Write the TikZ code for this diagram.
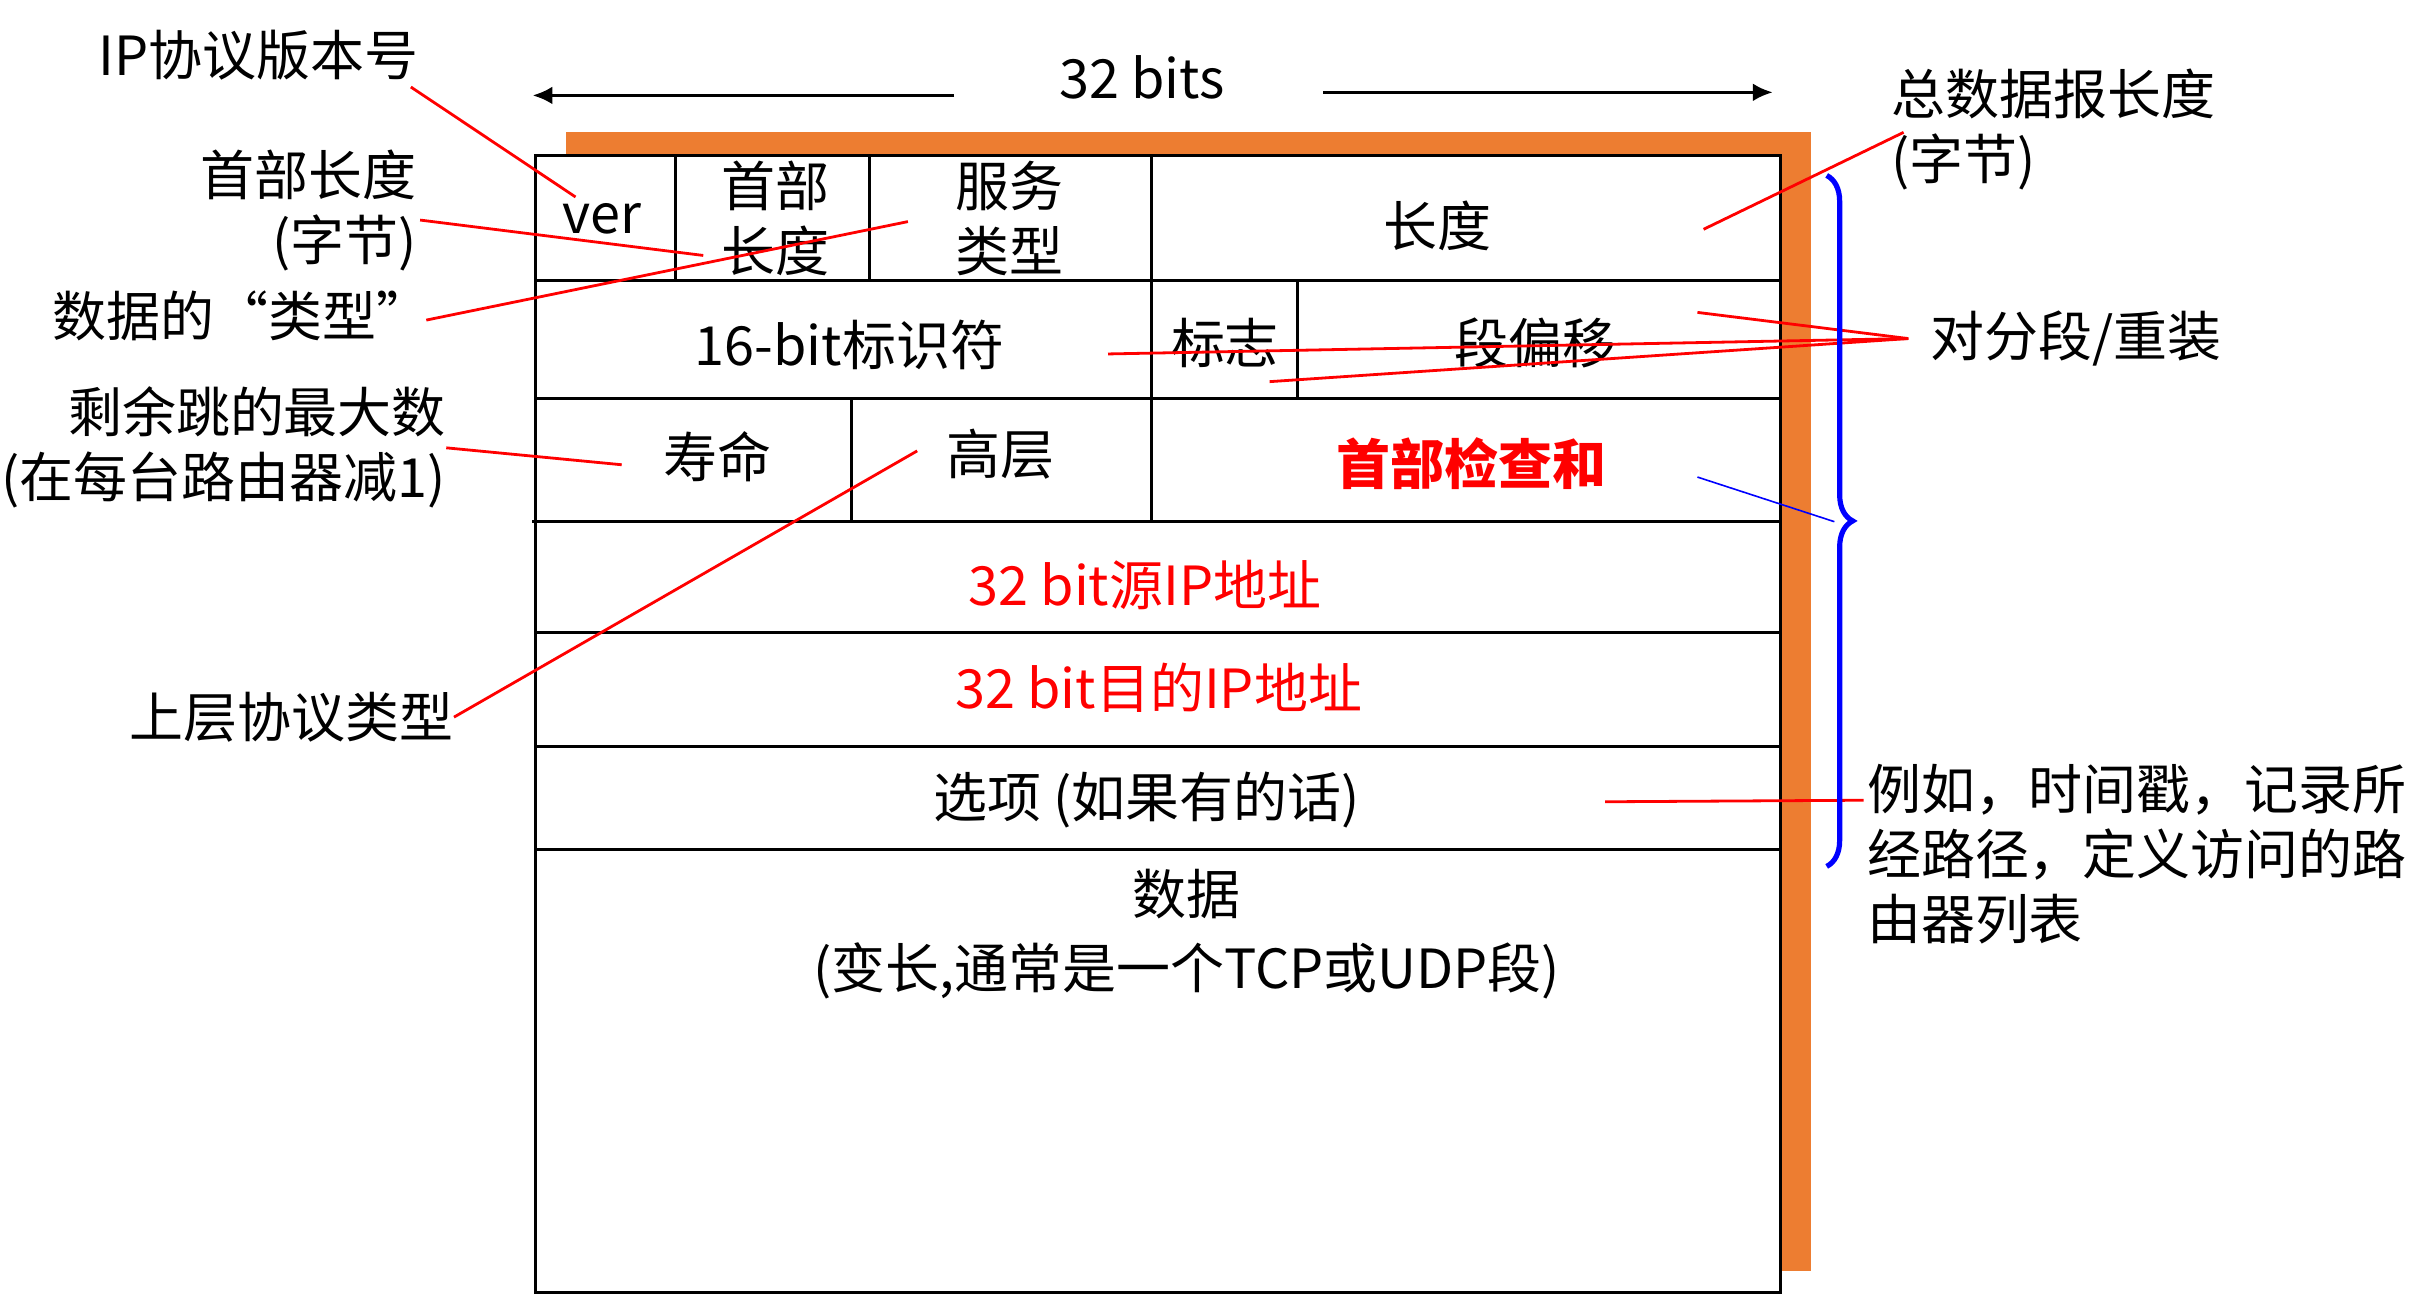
\documentclass[tikz,border=0pt]{standalone}
\usepackage{fontspec}
\setmainfont{Noto Sans CJK SC}
\usetikzlibrary{arrows.meta,decorations.pathreplacing}
\definecolor{hdrorange}{HTML}{ED7D31}
\definecolor{hdrred}{HTML}{FF0000}
\definecolor{hdrblue}{HTML}{0000FF}

\begin{document}
\begin{tikzpicture}[x=0.77pt, y=-0.77pt,
    font=\fontsize{27}{32.5}\selectfont,
    field/.style={inner sep=0pt, align=center},
    note/.style={inner sep=0pt},
    callout/.style={hdrred, line width=1.4pt},
    grid/.style={line width=1.5pt},
    widtharrow/.style={line width=1.8pt, -{Latex[length=10pt, width=9pt]}}]
   \useasboundingbox (0,0) rectangle (1568,843);

   % Shadow and frame
   \fill[hdrorange] (368,86) rectangle (1177,826);
   \filldraw[grid, fill=white] (348,101) rectangle (1157,840);
   \draw[grid] (348,182) -- (1157,182);
   \draw[grid] (348,259) -- (1157,259);
   \draw[grid] (346,339) -- (1157,339);
   \draw[grid] (348,411) -- (1157,411);
   \draw[grid] (348,485) -- (1157,485);
   \draw[grid] (348,552) -- (1157,552);
   \draw[grid] (439,101) -- (439,182);
   \draw[grid] (565,101) -- (565,182);
   \draw[grid] (748,101) -- (748,339);
   \draw[grid] (843,182) -- (843,259);
   \draw[grid] (553,259) -- (553,339);

   % Width of a row
   \node[note] (width) at (742,50) {32 bits};
   \coordinate (wl0) at (620,62);
   \coordinate (wl) at (346,62);
   \coordinate (wr0) at (860,60);
   \coordinate (wr) at (1152,60);
   \draw[widtharrow] (wl0) -- (wl);
   \draw[widtharrow] (wr0) -- (wr);

   % Fields
   \node[field] (fver) at (391,142) {ver};
   \node[field] (fhlen) at (504,142) {首部\\长度};
   \node[field] (ftos) at (656,142) {服务\\类型};
   \node[field] (flen) at (934,147) {长度};
   \node[field] (fid) at (552,224) {16-bit标识符};
   \node[field] (fflag) at (796,223) {标志};
   \node[field] (foff) at (998,223) {段偏移};
   \node[field] (fttl) at (466,297) {寿命};
   \node[field] (fproto) at (650,295) {高层};
   \node[field, text=hdrred, font=\fontsize{27}{32.5}\selectfont\bfseries] (fck) at (956,301) {首部检查和};
   \node[field, text=hdrred] (fsrc) at (744,380) {32 bit源IP地址};
   \node[field, text=hdrred] (fdst) at (753,447) {32 bit目的IP地址};
   \node[field] (fopt) at (745,520) {选项 (如果有的话)};
   \node[field] (fdata) at (771,607) {数据\\[4.5pt](变长,通常是一个TCP或UDP段)};

   % Notes on the left
   \node[note, anchor=east] (lver) at (272,36) {IP协议版本号};
   \node[note, anchor=east, align=right] (lhlen) at (271,137) {首部长度\\(字节)};
   \node[note, anchor=east] (ltos) at (280,205) {数据的“类型”};
   \node[note, anchor=east, align=right] (lttl) at (290,291) {剩余跳的最大数\\(在每台路由器减1)};
   \node[note, anchor=east] (lproto) at (295,466) {上层协议类型};

   % Notes on the right
   \node[note, anchor=west, align=left] (llen) at (1229,84) {总数据报长度\\(字节)};
   \node[note, anchor=west] (lfrag) at (1254,220) {对分段/重装};
   \node[note, anchor=west, align=left] (lopt) at (1213,555) {例如，时间戳，记录所\\经路径，定义访问的路\\由器列表};

   % Ends of the callouts
   \coordinate (pver) at (374,128);
   \coordinate (phlen) at (457,166);
   \coordinate (ptos) at (590,144);
   \coordinate (pttl) at (404,302);
   \coordinate (pproto) at (596,293);
   \coordinate (plen) at (1107,149);
   \coordinate (pfraga) at (1103,203);
   \coordinate (pfragb) at (720,230);
   \coordinate (pfragc) at (825,248);
   \coordinate (popt) at (1043,521);
   \coordinate (pck) at (1103,310);
   \coordinate (bracetip) at (1192,339);

   \draw[callout] ([shift={(-5,4)}]lver.south east) -- (pver);
   \draw[callout] ([shift={(2,6)}]lhlen.east) -- (phlen);
   \draw[callout] ([shift={(-3,3)}]ltos.east) -- (ptos);
   \draw[callout] (lttl.east) -- (pttl);
   \draw[callout] (lproto.east) -- (pproto);
   \draw[callout] ([shift={(8,2)}]llen.west) -- (plen);
   \draw[callout] ([shift={(-14,0)}]lfrag.west) -- (pfraga);
   \draw[callout] ([shift={(-14,0)}]lfrag.west) -- (pfragb);
   \draw[callout] ([shift={(-14,0)}]lfrag.west) -- (pfragc);
   \draw[callout] ([shift={(-2,-35)}]lopt.west) -- (popt);

   % Brace over the header
   \draw[hdrblue, line width=2.6pt, decorate, decoration={brace, amplitude=13pt}] (1187,114) -- (1187,563);
   \draw[hdrblue, line width=0.8pt] (pck) -- (bracetip);
\end{tikzpicture}
\end{document}
